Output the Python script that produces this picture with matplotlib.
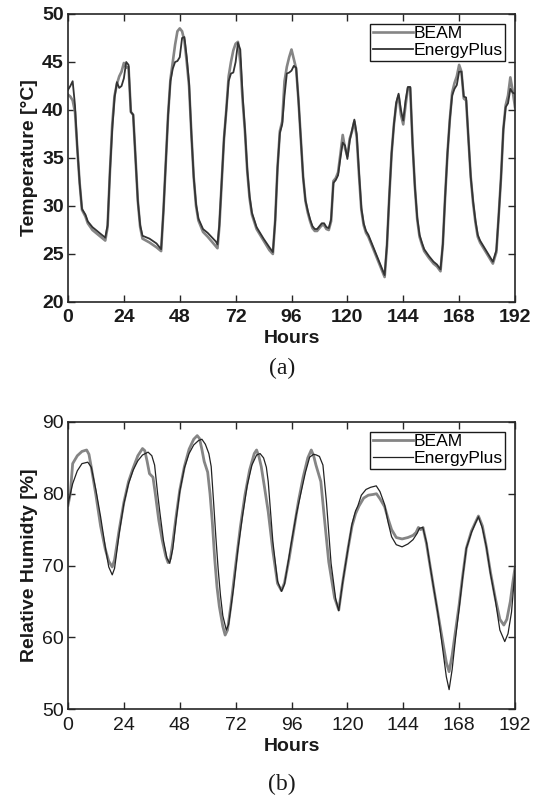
import matplotlib
matplotlib.use("Agg")
import matplotlib.pyplot as plt
import numpy as np

plt.rcParams["font.family"] = ["Liberation Sans", "DejaVu Sans"]

# ---- hourly simulation results (hour, value) ----
temp_beam = [
    (0, 41.6), (1, 41.4), (2, 41.0), (3, 39.8), (4, 36.0), (5, 32.4), (6, 29.6),
    (7.5, 28.9), (8.5, 28.2), (10.5, 27.5), (13.5, 26.9), (16, 26.4), (17, 27.8),
    (18, 33.5), (19, 38.5), (20, 41.5), (21, 42.7), (22, 43.5), (23, 44.0),
    (24, 44.9), (25, 44.4), (26, 44.5), (27, 39.8), (28, 39.5), (29, 35.0),
    (30, 30.5), (31, 27.8), (32, 26.6), (35, 26.2), (38, 25.7), (40, 25.3),
    (41, 29.5), (42, 34.5), (43, 39.5), (44, 43.2), (45, 45.0), (46, 46.8),
    (47, 48.2), (48, 48.5), (49, 48.2), (50, 47.2), (51, 45.0), (52, 42.5),
    (53, 37.5), (54, 33.0), (55, 30.0), (56, 28.5), (58, 27.3), (60, 26.8),
    (63.5, 25.8), (64.2, 25.6), (65, 27.8), (66, 32.5), (67, 37.0), (68, 40.0),
    (69, 43.5), (70, 45.0), (71, 46.2), (72, 46.9), (73, 47.1), (74, 45.0),
    (75, 41.0), (76, 37.8), (77, 33.6), (78, 30.8), (79, 29.1), (81, 27.6),
    (84, 26.4), (86.5, 25.4), (88, 25.0), (89, 28.5), (90, 34.0), (91, 37.8),
    (92, 38.8), (93, 43.0), (94, 44.5), (95, 45.5), (96, 46.3), (97, 45.3),
    (98, 44.3), (99, 41.0), (100, 37.0), (101, 33.0), (102, 30.5), (103, 29.3),
    (104, 28.4), (105, 27.7), (106, 27.4), (107, 27.4), (108, 27.7), (109, 28.0),
    (110, 28.0), (111, 27.6), (112, 27.5), (113, 28.4), (114, 32.6), (115, 32.9),
    (116, 33.5), (117, 35.4), (118, 37.4), (119, 36.0), (120, 35.2), (121, 37.0),
    (122, 37.8), (123, 38.8), (124, 37.2), (125, 33.2), (126, 29.6), (127, 28.0),
    (128, 27.2), (129, 26.8), (130, 26.2), (132, 25.0), (134, 23.8), (136, 22.6),
    (137, 25.8), (138, 31.0), (139, 35.5), (140, 38.5), (141, 40.6), (142, 41.5),
    (143, 39.5), (144, 38.5), (145, 40.5), (146, 42.3), (147, 42.3), (148, 36.5),
    (149, 32.0), (150, 28.6), (151, 26.8), (152, 26.0), (153, 25.3), (155, 24.6),
    (157, 24.0), (158.5, 23.7), (160, 23.2), (161, 26.0), (162, 31.0), (163, 35.5),
    (164, 39.0), (165, 41.8), (166, 42.8), (167, 43.5), (168, 44.7), (169, 44.0),
    (170, 41.2), (171, 41.0), (172, 37.0), (173, 33.0), (174, 30.3), (175, 28.3),
    (176, 26.8), (177, 26.2), (179, 25.4), (181, 24.6), (182.5, 24.0), (184, 25.2),
    (185, 29.0), (186, 33.0), (187, 38.0), (188, 40.5), (189, 41.5), (190, 43.4),
    (191, 42.0), (192, 40.3),
]

temp_eplus = [
    (0, 42.1), (1, 42.5), (2, 43.0), (3, 40.5), (4, 36.0), (5, 32.4), (6, 29.7),
    (7.5, 29.1), (8.5, 28.4), (10.5, 27.8), (13.5, 27.2), (16, 26.7), (17, 28.0),
    (18, 33.5), (19, 38.0), (20, 41.3), (21, 42.9), (22, 42.3), (23, 42.5),
    (24, 43.3), (25, 45.0), (26, 44.7), (27, 39.8), (28, 39.5), (29, 35.0),
    (30, 30.5), (31, 28.0), (32, 26.9), (35, 26.6), (38, 26.1), (40, 25.5),
    (41, 29.5), (42, 34.5), (43, 39.5), (44, 43.0), (45, 44.3), (46, 45.0),
    (47, 45.1), (48, 45.5), (49, 47.5), (50, 47.6), (51, 45.5), (52, 42.8),
    (53, 37.5), (54, 33.0), (55, 30.2), (56, 28.7), (58, 27.6), (60, 27.2),
    (63.5, 26.3), (64.2, 26.0), (65, 28.0), (66, 32.5), (67, 37.0), (68, 40.0),
    (69, 43.0), (70, 43.8), (71, 43.9), (72, 45.0), (73, 47.0), (74, 46.3),
    (75, 41.5), (76, 38.0), (77, 33.8), (78, 31.0), (79, 29.3), (81, 27.8),
    (84, 26.6), (86.5, 25.7), (88, 25.2), (89, 28.5), (90, 34.0), (91, 37.6),
    (92, 38.5), (93, 41.5), (94, 43.8), (95, 43.9), (96, 44.1), (97, 44.6),
    (98, 44.4), (99, 41.0), (100, 37.0), (101, 33.0), (102, 30.6), (103, 29.5),
    (104, 28.6), (105, 27.9), (106, 27.6), (107, 27.6), (108, 27.9), (109, 28.2),
    (110, 28.2), (111, 27.8), (112, 27.7), (113, 28.6), (114, 32.4), (115, 32.7),
    (116, 33.2), (117, 35.0), (118, 36.6), (119, 36.3), (120, 34.9), (121, 36.8),
    (122, 37.9), (123, 39.0), (124, 37.5), (125, 33.5), (126, 29.8), (127, 28.2),
    (128, 27.4), (129, 27.0), (130, 26.4), (132, 25.2), (134, 24.0), (136, 22.8),
    (137, 26.0), (138, 31.0), (139, 35.5), (140, 38.5), (141, 40.8), (142, 41.7),
    (143, 40.0), (144, 38.9), (145, 41.0), (146, 42.4), (147, 42.4), (148, 36.5),
    (149, 32.0), (150, 28.8), (151, 27.0), (152, 26.2), (153, 25.5), (155, 24.8),
    (157, 24.2), (158.5, 23.9), (160, 23.4), (161, 26.0), (162, 31.0), (163, 35.5),
    (164, 39.0), (165, 41.5), (166, 42.2), (167, 42.6), (168, 44.0), (169, 44.0),
    (170, 41.4), (171, 41.3), (172, 37.0), (173, 33.0), (174, 30.5), (175, 28.5),
    (176, 27.0), (177, 26.4), (179, 25.6), (181, 24.8), (182.5, 24.2), (184, 25.4),
    (185, 29.0), (186, 33.0), (187, 38.0), (188, 40.3), (189, 40.7), (190, 42.2),
    (191, 41.8), (192, 41.7),
]

rh_beam = [
    (0, 78.4), (1, 80.0), (2, 84.2), (4, 85.3), (6, 85.9), (8, 86.1), (9, 85.5),
    (10, 83.7), (12, 79.8), (14, 75.5), (16, 72.3), (17.5, 70.6), (19, 69.8),
    (20, 70.8), (22, 75.0), (24, 78.8), (26, 81.7), (28, 83.6), (30, 85.3),
    (32, 86.3), (33, 86.0), (34, 84.5), (35, 82.8), (36.5, 82.3), (37.5, 80.0),
    (39, 76.3), (40.5, 73.5), (42, 71.3), (43, 70.4), (44, 71.0), (45, 73.2),
    (46.5, 77.0), (48, 80.5), (50, 83.8), (52, 86.2), (54, 87.6), (55.5, 88.1),
    (56.5, 87.7), (57.5, 86.2), (58.5, 84.5), (60, 83.0), (61, 80.0), (62, 76.0),
    (63, 71.0), (64, 67.0), (65, 64.3), (66.5, 61.5), (67.5, 60.3), (68.5, 61.0),
    (70, 64.5), (72, 70.0), (74, 75.3), (76, 79.8), (78, 83.3), (80, 85.6),
    (81, 86.1), (82, 85.2), (83, 83.8), (84.5, 80.7), (86, 77.5), (88, 72.0),
    (90, 67.5), (91.7, 66.5), (93, 67.6), (95, 71.0), (97, 75.0), (99, 79.0),
    (101, 82.3), (103, 85.0), (104.5, 86.1), (105.5, 85.3), (106.5, 84.0),
    (108.6, 81.7), (110, 77.0), (112, 70.5), (114.5, 65.5), (116.3, 63.8),
    (118, 67.7), (120.3, 72.4), (122, 75.5), (123.5, 77.2), (125, 78.3),
    (127, 79.4), (129, 79.8), (131, 79.9), (132.5, 80.0), (134, 79.3), (136, 78.2),
    (137.5, 76.5), (139, 75.0), (141, 73.9), (143.5, 73.7), (146, 73.9),
    (148.2, 74.2), (149.5, 74.6), (150.5, 75.3), (151.5, 75.0), (152.5, 75.3),
    (154, 73.0), (155.5, 70.0), (157, 67.0), (158.9, 63.3), (161, 59.3),
    (162.5, 56.5), (163.7, 55.2), (165, 57.5), (166.5, 61.0), (168, 64.5),
    (169.5, 68.5), (171.1, 72.4), (173.3, 74.8), (175, 76.0), (176.3, 76.9),
    (178, 75.5), (179.7, 72.6), (181.5, 69.0), (183.5, 65.5), (185.5, 62.5),
    (187.2, 61.7), (188.5, 62.5), (190, 65.0), (191, 67.5), (192, 69.7),
]

rh_eplus = [
    (0, 78.6), (1, 80.0), (2, 81.4), (4, 83.2), (6, 84.2), (8.5, 84.4), (10, 83.7),
    (12, 80.5), (14, 76.8), (16, 72.6), (17.5, 69.8), (19, 68.7), (20, 69.6),
    (22, 74.5), (24, 78.6), (26, 81.4), (28, 83.3), (30, 84.6), (32, 85.4),
    (34.4, 85.8), (36, 85.3), (37.2, 84.0), (38.5, 80.0), (39.5, 77.3),
    (41, 73.5), (42.5, 71.0), (43.7, 70.3), (45, 72.3), (46.5, 76.5), (48, 80.3),
    (50, 83.6), (52, 85.6), (54, 86.8), (56, 87.4), (57.5, 87.6), (59, 86.9),
    (60.5, 85.6), (61.5, 83.8), (62.5, 79.0), (63.5, 74.0), (64.5, 69.5),
    (65.5, 65.8), (66.5, 63.0), (68, 61.0), (69, 61.8), (71, 66.6), (73, 72.3),
    (75, 77.0), (77, 81.2), (79, 84.0), (81, 85.4), (82.5, 85.6), (84, 85.0),
    (85.2, 83.7), (86, 81.7), (88, 73.3), (90, 67.8), (91.7, 66.4), (93, 67.4),
    (96, 73.3), (98, 77.0), (100.3, 80.5), (102, 83.0), (103.8, 85.1),
    (105.5, 85.5), (106.7, 85.4), (108, 85.2), (109.5, 84.0), (111, 78.9),
    (113, 70.3), (115, 65.3), (116.3, 63.7), (118, 67.7), (120.3, 72.4),
    (122, 75.8), (123.5, 77.6), (124.5, 78.3), (126, 79.8), (128, 80.6),
    (130, 80.9), (132.4, 81.1), (134, 80.3), (136, 78.5), (137.5, 76.0),
    (139, 74.0), (141, 72.9), (143.5, 72.6), (146, 73.0), (148.2, 73.6),
    (150, 74.5), (151, 75.2), (152.4, 75.3), (154, 73.2), (155.5, 70.0),
    (157, 67.0), (158.9, 63.3), (161, 58.2), (162.5, 54.5), (163.7, 52.7),
    (165, 55.5), (166.5, 60.0), (168, 64.0), (169.5, 68.3), (171.1, 72.4),
    (173.3, 74.6), (175, 75.9), (176.3, 76.8), (178, 75.2), (179.7, 72.6),
    (181.5, 68.8), (183.5, 65.3), (185.5, 61.0), (187.6, 59.4), (189, 60.5),
    (190.5, 63.5), (192, 69.3),
]

hour_ticks = list(range(0, 193, 24))
temp_ticks = [20, 25, 30, 35, 40, 45, 50]
rh_ticks = [50, 60, 70, 80, 90]

BEAM_COLOR = "#858585"
EPLUS_COLOR = "#333333"
AXIS_COLOR = "#262626"

fig = plt.figure(figsize=(5.40, 7.98), dpi=100)
ax_t = fig.add_axes([68 / 540, (798 - 302) / 798, 447 / 540, 288 / 798])
ax_h = fig.add_axes([68 / 540, (798 - 709) / 798, 447 / 540, 287 / 798])


def split(pairs):
    h, v = zip(*pairs)
    return np.array(h), np.array(v)


def style_axes(ax):
    for s in ax.spines.values():
        s.set_color(AXIS_COLOR)
        s.set_linewidth(1.2)
    ax.tick_params(direction="in", length=5, width=1.0, color=AXIS_COLOR,
                   top=True, right=True, labelsize=14, labelcolor="#1a1a1a")
    ax.tick_params(axis="x", pad=5)
    ax.tick_params(axis="y", pad=3)
    ax.set_xlim(0, 192)
    ax.set_xticks(hour_ticks)


def add_legend(ax):
    leg = ax.legend(loc="upper right", bbox_to_anchor=(1.0, 1.0),
                    borderaxespad=0.55, fontsize=12.6, frameon=True,
                    fancybox=False, framealpha=1.0, edgecolor="#1a1a1a",
                    borderpad=0.15, handlelength=2.3, handletextpad=0.05,
                    labelspacing=0.1)
    leg.get_frame().set_linewidth(1.0)
    return leg


# (a) temperature
h, v = split(temp_beam)
ax_t.plot(h, v, color=BEAM_COLOR, lw=1.9, label="BEAM", solid_joinstyle="round")
h, v = split(temp_eplus)
ax_t.plot(h, v, color=EPLUS_COLOR, lw=1.3, label="EnergyPlus", solid_joinstyle="round")
style_axes(ax_t)
ax_t.set_ylim(20, 50)
ax_t.set_yticks(temp_ticks)
for lab in ax_t.get_xticklabels() + ax_t.get_yticklabels():
    lab.set_fontweight("bold")
ax_t.set_xlabel("Hours", fontsize=14, fontweight="bold", color="#1a1a1a")
ax_t.set_ylabel("Temperature [°C]", fontsize=14, fontweight="bold", color="#1a1a1a")
ax_t.xaxis.set_label_coords(0.5, -0.098)
ax_t.yaxis.set_label_coords(-0.067, 0.5)
add_legend(ax_t)

# (b) relative humidity
h, v = split(rh_beam)
ax_h.plot(h, v, color=BEAM_COLOR, lw=2.0, label="BEAM", solid_joinstyle="round")
h, v = split(rh_eplus)
ax_h.plot(h, v, color="#222222", lw=0.9, label="EnergyPlus", solid_joinstyle="round")
style_axes(ax_h)
ax_h.tick_params(axis="x", pad=6)
ax_h.set_ylim(50, 90)
ax_h.set_yticks(rh_ticks)
ax_h.set_xlabel("Hours", fontsize=14, fontweight="bold", color="#1a1a1a")
ax_h.set_ylabel("Relative Humidty [%]", fontsize=14, fontweight="bold", color="#1a1a1a")
ax_h.xaxis.set_label_coords(0.5, -0.1)
ax_h.yaxis.set_label_coords(-0.067, 0.5)
add_legend(ax_h)

# panel captions
fig.text(282 / 540, 1 - 368 / 798, "(a)", ha="center", va="center",
         fontsize=17, family="Liberation Serif", color="#1a1a1a")
fig.text(282 / 540, 1 - 784 / 798, "(b)", ha="center", va="center",
         fontsize=17, family="Liberation Serif", color="#1a1a1a")

fig.savefig("out.png", dpi=100)
